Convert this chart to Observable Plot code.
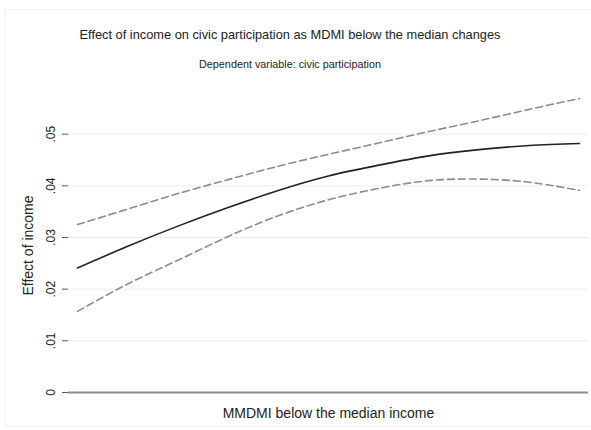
<!DOCTYPE html>
<html>
<head>
<meta charset="utf-8">
<script src="https://cdn.jsdelivr.net/npm/d3@7"></script>
<script src="https://cdn.jsdelivr.net/npm/@observablehq/plot@0.6"></script>
<style>
  html, body { margin: 0; padding: 0; background: #fff; }
  #wrap { position: relative; width: 591px; height: 430px; overflow: hidden; font-family: "Liberation Sans", Arial, Helvetica, sans-serif; }
  #frame { position: absolute; left: 4px; top: 9px; width: 600px; height: 418px; border: 1px solid #f2f2f2; box-sizing: border-box; }
  #head { position: relative; height: 80px; }
  #title { position: absolute; left: 0; width: 580px; top: 27px; text-align: center; font-size: 12.8px; color: #222; }
  #subtitle { position: absolute; left: 0; width: 580px; top: 58px; text-align: center; font-size: 10.8px; color: #222; }
  svg { display: block; }
</style>
</head>
<body>
<div id="wrap">
  <div id="frame"></div>
  <div id="head">
    <div id="title"></div>
    <div id="subtitle"></div>
  </div>
  <div id="chart"></div>
</div>
<script>
const titleText = "Effect of income on civic participation as MDMI below the median changes";
const subtitleText = "Dependent variable: civic participation";
const yLabel = "Effect of income";
const xLabel = "MMDMI below the median income";

// x positions (relative steps of MDMI below the median; the axis has no tick labels)
const mdmi   = [0, 10, 20, 30, 40, 50, 60, 70, 80, 90, 100];
const effect = [.0241, .0283, .0322, .0358, .0391, .0419, .0440, .0458, .0470, .0478, .0482];
const upper  = [.0325, .0355, .0385, .0412, .0438, .0461, .0483, .0505, .0526, .0548, .0569];
const lower  = [.0157, .0210, .0256, .0302, .0342, .0373, .0395, .0410, .0413, .0407, .0391];

const yTicks = [0, .01, .02, .03, .04, .05];
const yTickLabels = ["0", ".01", ".02", ".03", ".04", ".05"];

document.getElementById("title").textContent = titleText;
document.getElementById("subtitle").textContent = subtitleText;

const rows = mdmi.map((x, i) => ({x, effect: effect[i], upper: upper[i], lower: lower[i]}));
const tickRows = yTicks.map((v, i) => ({v, label: yTickLabels[i]}));

const chart = Plot.plot({
  width: 591,
  height: 350,
  marginLeft: 68,
  marginRight: 3,
  marginTop: 18,
  marginBottom: 38,
  style: {fontFamily: "'Liberation Sans', Arial, Helvetica, sans-serif", background: "#fff"},
  x: {domain: [-1.8, 101.8], axis: null},
  y: {domain: [0, d3.max(upper)], axis: null},
  marks: [
    Plot.gridY(yTicks.slice(1), {stroke: "#ececec", strokeOpacity: 1, strokeWidth: 1}),
    Plot.axisY(yTicks, {tickSize: 6, tickFormat: () => "", stroke: "#555", label: null}),
    Plot.text(tickRows, {y: "v", text: "label", frameAnchor: "left", textAnchor: "middle", dx: -17, rotate: -90, fontSize: 12, fill: "#222"}),
    Plot.ruleY([0], {stroke: "#8a8a8a", strokeWidth: 2}),
    Plot.line(rows, {x: "x", y: "upper", stroke: "#8c8c8c", strokeWidth: 1.6, strokeDasharray: "7,4", curve: "natural"}),
    Plot.line(rows, {x: "x", y: "lower", stroke: "#8c8c8c", strokeWidth: 1.6, strokeDasharray: "7,4", curve: "natural"}),
    Plot.line(rows, {x: "x", y: "effect", stroke: "#222", strokeWidth: 1.6, curve: "natural"}),
    Plot.text([yLabel], {text: d => d, frameAnchor: "left", textAnchor: "middle", dx: -40, rotate: -90, fontSize: 14, fill: "#222"}),
    Plot.text([xLabel], {text: d => d, frameAnchor: "bottom", dy: 25, fontSize: 14, fill: "#222"})
  ]
});
document.getElementById("chart").appendChild(chart);
</script>
</body>
</html>
